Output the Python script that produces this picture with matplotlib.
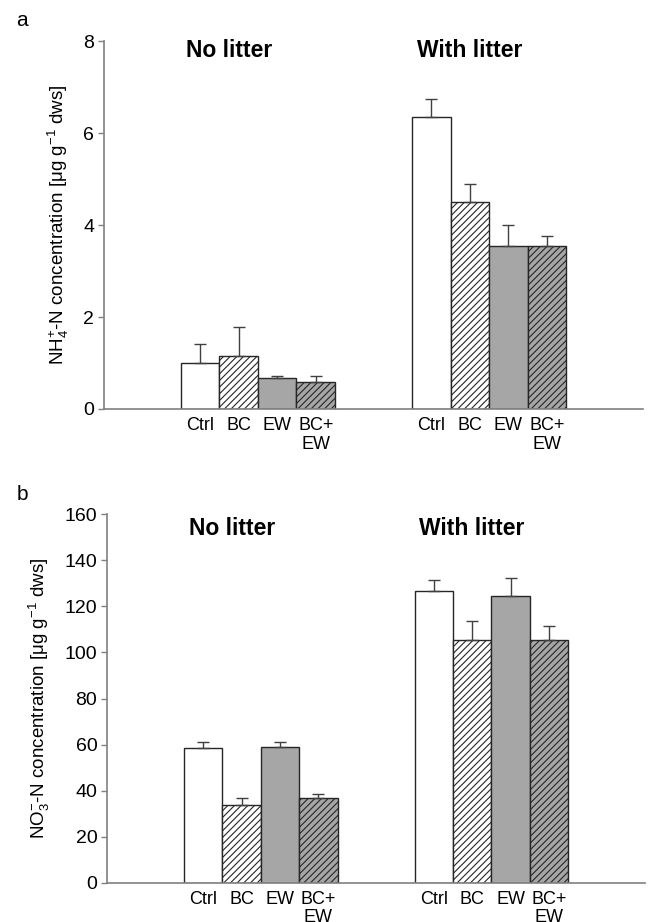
import matplotlib
matplotlib.use("Agg")
import matplotlib.pyplot as plt
import numpy as np

plt.rcParams['font.family'] = ['Liberation Sans', 'DejaVu Sans']
plt.rcParams['mathtext.fontset'] = 'custom'
plt.rcParams['mathtext.rm'] = 'Liberation Sans'
plt.rcParams['mathtext.it'] = 'Liberation Sans:italic'
plt.rcParams['mathtext.bf'] = 'Liberation Sans:bold'
plt.rcParams['mathtext.default'] = 'regular'
plt.rcParams['hatch.linewidth'] = 0.8

treatments = ["Ctrl", "BC", "EW", "BC+\nEW"]
groups = ["No litter", "With litter"]

# Panel a: NH4+-N
nh4_no = [1.00, 1.16, 0.67, 0.58]
nh4_no_err = [0.41, 0.62, 0.05, 0.14]
nh4_with = [6.35, 4.51, 3.54, 3.54]
nh4_with_err = [0.38, 0.38, 0.45, 0.23]

# Panel b: NO3--N
no3_no = [58.4, 33.8, 59.1, 36.7]
no3_no_err = [2.6, 2.9, 2.2, 1.9]
no3_with = [126.7, 105.5, 124.6, 105.5]
no3_with_err = [4.9, 8.0, 7.6, 5.8]

faces = ["white", "white", "#a6a6a6", "#a6a6a6"]
hatches = [None, "/////", None, "/////"]
edge = "#262626"

fig = plt.figure(figsize=(6.49, 9.22), dpi=100)

def draw(ax, no, no_err, wl, wl_err, ylim, yticks, ylabel, title_y):
    pos_no = np.array([2.5, 3.5, 4.5, 5.5])
    pos_wl = np.array([8.5, 9.5, 10.5, 11.5])
    for pos, vals, errs in [(pos_no, no, no_err), (pos_wl, wl, wl_err)]:
        for i in range(4):
            ax.bar(pos[i], vals[i], width=1.0, color=faces[i], edgecolor=edge,
                   linewidth=1.0, hatch=hatches[i], zorder=2)
            ax.errorbar(pos[i], vals[i], yerr=[[0], [errs[i]]], fmt="none",
                        ecolor="#404040", elinewidth=1.0, capsize=4, capthick=1.0,
                        zorder=3)
    ax.set_xlim(0, 14)
    ax.set_ylim(*ylim)
    ax.set_yticks(yticks)
    ax.set_xticks(list(pos_no) + list(pos_wl))
    ax.set_xticklabels(treatments * 2, fontsize=13, linespacing=1.1)
    ax.tick_params(axis="x", length=0, pad=6)
    ax.tick_params(axis="y", length=4, width=1, color="#808080", labelsize=14, pad=3)
    for s in ["top", "right"]:
        ax.spines[s].set_visible(False)
    for s in ["left", "bottom"]:
        ax.spines[s].set_color("#808080")
        ax.spines[s].set_linewidth(1.2)
    ax.set_ylabel(ylabel, fontsize=13.5, labelpad=9)
    ax.text(3.25, title_y, groups[0], ha="center", va="center", fontsize=16.5,
            fontweight="bold", transform=ax.transData)
    ax.text(9.5, title_y, groups[1], ha="center", va="center", fontsize=16.5,
            fontweight="bold", transform=ax.transData)

ax1 = fig.add_axes([0.160, 0.5564, 0.831, 0.3991])
draw(ax1, nh4_no, nh4_no_err, nh4_with, nh4_with_err, (0, 8), [0, 2, 4, 6, 8],
     "NH$_4^{+}$-N concentration [μg g$^{-1}$ dws]", 7.8)

ax2 = fig.add_axes([0.165, 0.0426, 0.829, 0.3996])
draw(ax2, no3_no, no3_no_err, no3_with, no3_with_err, (0, 160),
     [0, 20, 40, 60, 80, 100, 120, 140, 160],
     "NO$_3^{-}$-N concentration [μg g$^{-1}$ dws]", 154)

fig.text(22 / 649, 1 - 21 / 922, "a", fontsize=15, ha="center", va="center")
fig.text(22 / 649, 1 - 494 / 922, "b", fontsize=15, ha="center", va="center")

fig.savefig("out.png", dpi=100)
